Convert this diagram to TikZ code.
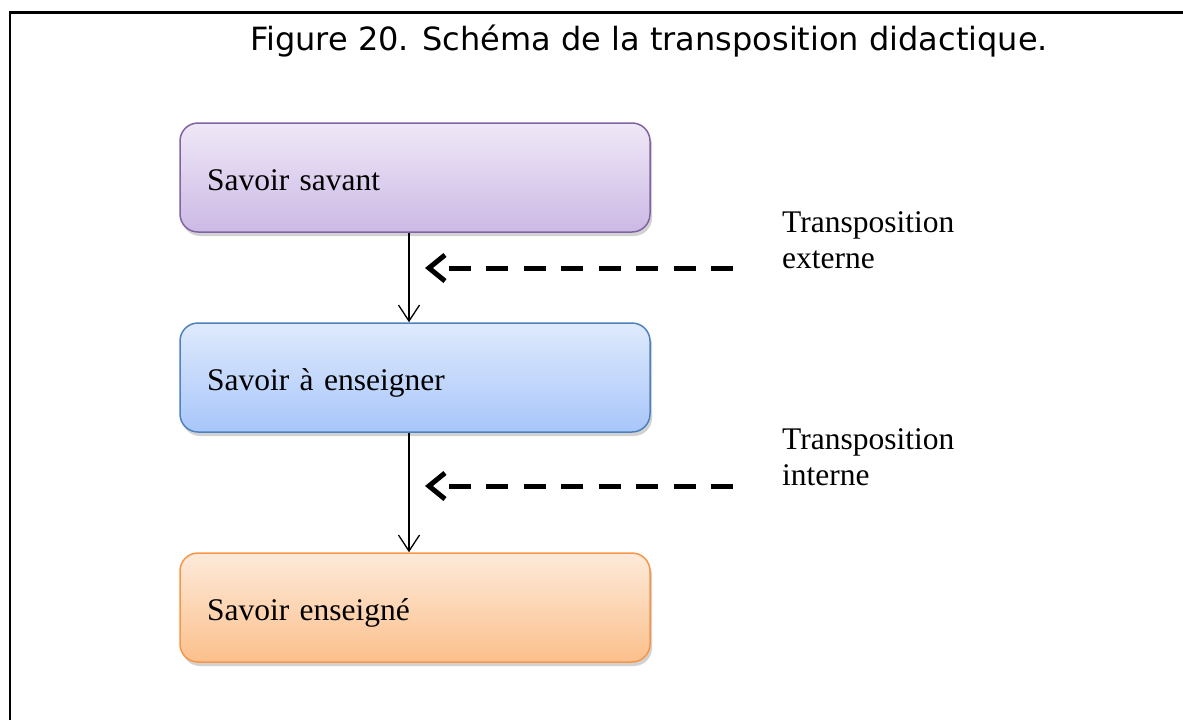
\documentclass[tikz,border=0pt]{standalone}
\usepackage{fontspec}
\setmainfont{Liberation Serif}
\newfontfamily\titlefont{DejaVu Sans}
\usetikzlibrary{arrows.meta,shadows}
\definecolor{pTop}{RGB}{239,232,247}
\definecolor{pBot}{RGB}{204,185,229}
\definecolor{pLine}{RGB}{128,100,162}
\definecolor{bTop}{RGB}{223,234,252}
\definecolor{bBot}{RGB}{168,198,250}
\definecolor{bLine}{RGB}{79,129,189}
\definecolor{oTop}{RGB}{253,234,218}
\definecolor{oBot}{RGB}{252,192,140}
\definecolor{oLine}{RGB}{247,150,70}
\begin{document}
\begin{tikzpicture}[x=1pt,y=-1pt,
  stagebox/.style={rounded corners=18pt, line width=1.5pt,
    minimum width=470pt, minimum height=109pt,
    text width=416pt, inner xsep=27pt, inner ysep=0pt, align=left,
    font=\fontsize{31.5}{36}\selectfont, text height=25pt, text depth=0pt,
    drop shadow={shadow xshift=2pt, shadow yshift=-4pt, opacity=0.25, fill=black!70}},
  purplebox/.style={stagebox, draw=pLine, top color=pTop, bottom color=pBot},
  bluebox/.style={stagebox, draw=bLine, top color=bTop, bottom color=bBot},
  orangebox/.style={stagebox, draw=oLine, top color=oTop, bottom color=oBot},
  conn/.style={line width=1.3pt, -{Straight Barb[length=16pt,width=21pt]}},
  dasharrow/.style={line width=5pt, dash pattern=on 21.7pt off 15.8pt,
    -{Straight Barb[length=16pt,width=26pt]}},
  lbl/.style={anchor=base west, align=left, inner sep=0pt,
    font=\fontsize{31.5}{36}\selectfont},
  frameline/.style={line width=2.5pt}
]
\useasboundingbox (0,0) rectangle (1183,720);
% frame
\coordinate (fb) at (10,720);
\coordinate (fc) at (10,12.5);
\coordinate (fr) at (1183,12.5);
\draw[frameline] (fb) -- (fc) -- (fr);
% title
\node[anchor=base west, inner sep=0pt, font=\titlefont\fontsize{32}{38}\selectfont] (title) at (250,50.5) {Figure 20. Schéma de la transposition didactique.};
% boxes
\node[purplebox] (b1) at (415,177.5) {Savoir savant};
\node[bluebox] (b2) at (415,377.5) {Savoir à enseigner};
\node[orangebox] (b3) at (415,607.5) {Savoir enseigné};
% vertical arrows
\draw[conn] ([xshift=-6pt]b1.south) -- ([xshift=-6pt]b2.north);
\draw[conn] ([xshift=-6pt]b2.south) -- ([xshift=-6pt]b3.north);
% dashed arrows
\coordinate (d1s) at (733,268);
\coordinate (d1e) at (425,268);
\coordinate (d2s) at (733,486);
\coordinate (d2e) at (425,486);
\draw[dasharrow] (d1s) -- (d1e);
\draw[dasharrow] (d2s) -- (d2e);
% labels (base anchor = baseline of last line)
\node[lbl] (l1) at (782,268) {Transposition\\externe};
\node[lbl] (l2) at (782,485) {Transposition\\interne};
\end{tikzpicture}
\end{document}
